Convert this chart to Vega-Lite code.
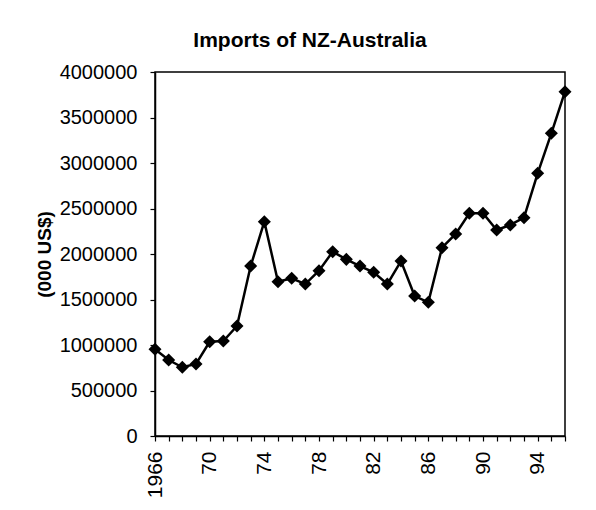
{
  "$schema": "https://vega.github.io/schema/vega-lite/v6.json",
  "width": 410,
  "height": 364,
  "autosize": {"type": "none"},
  "padding": {"left": 155, "top": 72, "right": 31, "bottom": 74},
  "background": "white",
  "title": {
    "text": "Imports of NZ-Australia",
    "font": "Liberation Sans",
    "fontSize": 21,
    "fontWeight": "bold",
    "color": "black",
    "anchor": "middle",
    "dx": -50,
    "offset": 11
  },
  "config": {
    "view": {"stroke": "black", "strokeWidth": 1.5},
    "axis": {
      "labelFont": "Liberation Sans",
      "titleFont": "Liberation Sans",
      "labelColor": "black",
      "titleColor": "black",
      "domainColor": "black",
      "tickColor": "black",
      "domainWidth": 1.5,
      "tickWidth": 1.2,
      "grid": false
    }
  },
  "data": {
    "values": [
      {"year": 1966, "imports": 953000},
      {"year": 1967, "imports": 835000},
      {"year": 1968, "imports": 755000},
      {"year": 1969, "imports": 791000},
      {"year": 1970, "imports": 1036000},
      {"year": 1971, "imports": 1044000},
      {"year": 1972, "imports": 1209000},
      {"year": 1973, "imports": 1868000},
      {"year": 1974, "imports": 2355000},
      {"year": 1975, "imports": 1696000},
      {"year": 1976, "imports": 1733000},
      {"year": 1977, "imports": 1670000},
      {"year": 1978, "imports": 1817000},
      {"year": 1979, "imports": 2025000},
      {"year": 1980, "imports": 1941000},
      {"year": 1981, "imports": 1868000},
      {"year": 1982, "imports": 1799000},
      {"year": 1983, "imports": 1670000},
      {"year": 1984, "imports": 1923000},
      {"year": 1985, "imports": 1538000},
      {"year": 1986, "imports": 1469000},
      {"year": 1987, "imports": 2069000},
      {"year": 1988, "imports": 2220000},
      {"year": 1989, "imports": 2447000},
      {"year": 1990, "imports": 2447000},
      {"year": 1991, "imports": 2264000},
      {"year": 1992, "imports": 2319000},
      {"year": 1993, "imports": 2399000},
      {"year": 1994, "imports": 2887000},
      {"year": 1995, "imports": 3326000},
      {"year": 1996, "imports": 3784000}
    ]
  },
  "encoding": {
    "x": {
      "field": "year",
      "type": "quantitative",
      "scale": {"domain": [1966, 1996], "nice": false, "zero": false},
      "axis": {
        "title": null,
        "values": [1966,1967,1968,1969,1970,1971,1972,1973,1974,1975,1976,1977,1978,1979,1980,1981,1982,1983,1984,1985,1986,1987,1988,1989,1990,1991,1992,1993,1994,1995,1996],
        "format": "d",
        "labelExpr": "(datum.value - 1966) % 4 == 0 && datum.value < 1996 ? (datum.value == 1966 ? '1966' : substring(toString(datum.value), 2)) : ''",
        "labelAngle": 270,
        "labelAlign": "right",
        "labelBaseline": "middle",
        "labelFontSize": 21,
        "labelPadding": 10,
        "labelFlush": false,
        "labelOverlap": false,
        "tickSize": 5
      }
    },
    "y": {
      "field": "imports",
      "type": "quantitative",
      "scale": {"domain": [0, 4000000], "nice": false},
      "axis": {
        "title": "(000 US$)",
        "titleFontSize": 19,
        "titleFontWeight": "bold",
        "titlePadding": 5,
        "values": [0, 500000, 1000000, 1500000, 2000000, 2500000, 3000000, 3500000, 4000000],
        "format": "d",
        "labelFontSize": 20,
        "labelPadding": 13,
        "tickSize": 5,
        "labelFlush": false
      }
    }
  },
  "layer": [
    {"mark": {"type": "line", "color": "black", "strokeWidth": 2.5}},
    {"mark": {"type": "point", "shape": "diamond", "filled": true, "color": "black", "opacity": 1, "size": 170}}
  ]
}
